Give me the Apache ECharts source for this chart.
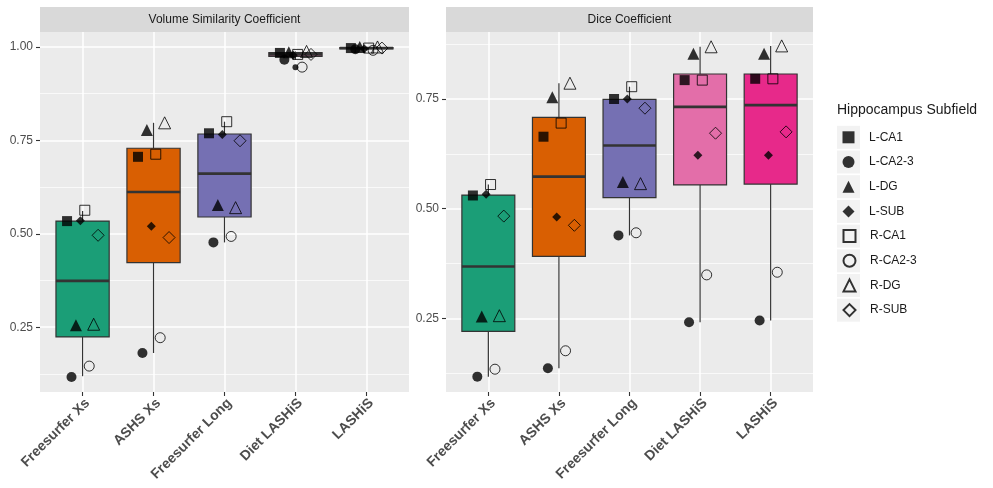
<!DOCTYPE html>
<html><head><meta charset="utf-8">
<script src="https://cdn.jsdelivr.net/npm/echarts@6/dist/echarts.min.js"></script>
<style>html,body{margin:0;padding:0;background:#fff}#c{width:993px;height:488px}</style>
</head><body><div id="c"></div>
<script>
// ---------- DATA ----------
const categories = ['Freesurfer Xs', 'ASHS Xs', 'Freesurfer Long', 'Diet LASHiS', 'LASHiS'];
const subfields = ['L-CA1', 'L-CA2-3', 'L-DG', 'L-SUB', 'R-CA1', 'R-CA2-3', 'R-DG', 'R-SUB'];
const panelTitles = ['Volume Similarity Coefficient', 'Dice Coefficient'];
const legendTitle = 'Hippocampus Subfield';
const boxColors = ['#1B9E77', '#D95F02', '#7570B3', '#E36EA9', '#E7298A'];

// Volume Similarity Coefficient: one array per subfield, one value per category
const vscLCA1  = [0.534, 0.706, 0.769, 0.984, 0.997];
const vscLCA23 = [0.117, 0.181, 0.477, 0.966, 0.994];
const vscLDG   = [0.255, 0.778, 0.577, 0.986, 1.000];
const vscLSUB  = [0.535, 0.520, 0.766, 0.978, 0.995];
const vscRCA1  = [0.563, 0.713, 0.800, 0.980, 0.997];
const vscRCA23 = [0.146, 0.222, 0.493, 0.946, 0.991];
const vscRDG   = [0.258, 0.797, 0.570, 0.988, 1.000];
const vscRSUB  = [0.496, 0.490, 0.749, 0.980, 0.997];
// VSC box statistics per category
const vscLow    = [0.119, 0.181, 0.477, 0.966, 0.991];
const vscQ1     = [0.224, 0.423, 0.545, 0.975, 0.9945];
const vscMedian = [0.374, 0.612, 0.661, 0.980, 0.997];
const vscQ3     = [0.534, 0.729, 0.767, 0.985, 0.998];
const vscHigh   = [0.561, 0.797, 0.800, 0.988, 1.000];
const vscOutlierCat = [3];
const vscOutlierVal = [0.946];

// Dice Coefficient
const diceLCA1  = [0.530, 0.664, 0.750, 0.793, 0.796];
const diceLCA23 = [0.117, 0.136, 0.439, 0.241, 0.245];
const diceLDG   = [0.254, 0.754, 0.561, 0.853, 0.853];
const diceLSUB  = [0.533, 0.481, 0.750, 0.622, 0.622];
const diceRCA1  = [0.555, 0.695, 0.778, 0.793, 0.796];
const diceRCA23 = [0.134, 0.176, 0.445, 0.349, 0.355];
const diceRDG   = [0.256, 0.786, 0.557, 0.869, 0.871];
const diceRSUB  = [0.483, 0.462, 0.729, 0.672, 0.675];
const diceLow    = [0.117, 0.136, 0.439, 0.241, 0.245];
const diceQ1     = [0.220, 0.391, 0.525, 0.554, 0.556];
const diceMedian = [0.368, 0.573, 0.644, 0.732, 0.736];
const diceQ3     = [0.531, 0.708, 0.749, 0.807, 0.807];
const diceHigh   = [0.555, 0.786, 0.778, 0.869, 0.871];
const diceOutlierCat = [];
const diceOutlierVal = [];

// Axis ticks
const vscTicks = [0.25, 0.50, 0.75, 1.00];
const vscMinor = [0.125, 0.375, 0.625, 0.875];
const diceTicks = [0.25, 0.50, 0.75];
const diceMinor = [0.125, 0.375, 0.625, 0.875];
const vscRange = [0.0767, 1.040];
const diceRange = [0.082, 0.9027];

// ---------- BUILD ----------
const FONT = 'Liberation Sans, Arial, sans-serif';
const panels = [
  { pts: [vscLCA1, vscLCA23, vscLDG, vscLSUB, vscRCA1, vscRCA23, vscRDG, vscRSUB],
    box: [vscLow, vscQ1, vscMedian, vscQ3, vscHigh], outC: vscOutlierCat, outV: vscOutlierVal,
    ticks: vscTicks, minor: vscMinor, range: vscRange, left: 40, width: 369 },
  { pts: [diceLCA1, diceLCA23, diceLDG, diceLSUB, diceRCA1, diceRCA23, diceRDG, diceRSUB],
    box: [diceLow, diceQ1, diceMedian, diceQ3, diceHigh], outC: diceOutlierCat, outV: diceOutlierVal,
    ticks: diceTicks, minor: diceMinor, range: diceRange, left: 446, width: 367 }
];
const symbols = ['rect', 'circle', 'triangle', 'diamond', 'rect', 'circle', 'triangle', 'diamond'];
const symSizes = [10, 10, 12, 9, 10, 10, 12, 12];
const catIdx = [0, 1, 2, 3, 4];
const BOX_HALF = 0.375, DODGE = 0.0625;

const grids = [], xAxes = [], yAxes = [], series = [], graphics = [];
panels.forEach((p, g) => {
  grids.push({ left: p.left, top: 32, width: p.width, height: 360, show: true,
    backgroundColor: '#EBEBEB', borderWidth: 0, containLabel: false });
  xAxes.push({ gridIndex: g, type: 'value', min: -0.6, max: 4.6, position: 'bottom',
    axisLine: { show: false, onZero: false },
    axisTick: { show: true, customValues: catIdx, length: 4, lineStyle: { color: '#333333', width: 1.1 } },
    axisLabel: { customValues: catIdx, formatter: v => categories[Math.round(v)], rotate: 45,
      verticalAlign: 'top', align: 'right',
      fontSize: 14, fontWeight: 'bold', color: '#4D4D4D', margin: 4, fontFamily: FONT },
    splitLine: { show: true, lineStyle: { color: '#FFFFFF', width: 1.5 } } });
  yAxes[g] = { gridIndex: g, type: 'value', min: p.range[0], max: p.range[1], position: 'left',
    axisLine: { show: false, onZero: false },
    axisTick: { show: true, customValues: p.ticks, length: 4, lineStyle: { color: '#333333', width: 1.1 } },
    axisLabel: { customValues: p.ticks, formatter: v => v.toFixed(2), fontSize: 12, color: '#4D4D4D', margin: 7, fontFamily: FONT },
    splitLine: { show: true, lineStyle: { color: '#FFFFFF', width: 1.5 } } };
  yAxes[g + 2] = { gridIndex: g, type: 'value', min: p.range[0], max: p.range[1], position: 'left',
    axisLine: { show: false, onZero: false },
    axisTick: { show: false, customValues: p.minor },
    axisLabel: { show: false, customValues: p.minor },
    splitLine: { show: true, lineStyle: { color: '#FFFFFF', width: 0.7 } } };

  // boxes
  const boxData = catIdx.map(i => [i, p.box[0][i], p.box[1][i], p.box[2][i], p.box[3][i], p.box[4][i]]);
  series.push({ type: 'custom', xAxisIndex: g, yAxisIndex: g, z: 2, silent: true,
    encode: { x: 0, y: [1, 2, 3, 4, 5] }, data: boxData,
    renderItem: (params, api) => {
      const x = api.value(0);
      const lo = api.value(1), q1 = api.value(2), md = api.value(3), q3 = api.value(4), hi = api.value(5);
      const tl = api.coord([x - BOX_HALF, q3]);
      const br = api.coord([x + BOX_HALF, q1]);
      const ml = api.coord([x - BOX_HALF, md]);
      const mr = api.coord([x + BOX_HALF, md]);
      const ph = api.coord([x, hi]);
      const pl = api.coord([x, lo]);
      const stroke = { stroke: '#333333', lineWidth: 1.2 };
      return { type: 'group', children: [
        { type: 'line', shape: { x1: ph[0], y1: ph[1], x2: ph[0], y2: tl[1] }, style: stroke },
        { type: 'line', shape: { x1: pl[0], y1: br[1], x2: pl[0], y2: pl[1] }, style: stroke },
        { type: 'rect', shape: { x: tl[0], y: tl[1], width: br[0] - tl[0], height: br[1] - tl[1] },
          style: { fill: boxColors[params.dataIndex], stroke: '#333333', lineWidth: 1.2 } },
        { type: 'line', shape: { x1: ml[0], y1: ml[1], x2: mr[0], y2: mr[1] },
          style: { stroke: '#333333', lineWidth: 2.6 } }
      ] };
    } });

  // outliers
  if (p.outC.length) {
    series.push({ type: 'scatter', xAxisIndex: g, yAxisIndex: g, z: 3, silent: true,
      symbol: 'circle', symbolSize: 6, itemStyle: { color: '#000' },
      data: p.outC.map((c, k) => [c, p.outV[k]]) });
  }

  // subfield points
  subfields.forEach((name, j) => {
    const filled = j < 4;
    series.push({ type: 'scatter', name: name, xAxisIndex: g, yAxisIndex: g, z: 4,
      symbol: symbols[j], symbolSize: symSizes[j],
      itemStyle: filled ? { color: '#000000' } : { color: 'rgba(0,0,0,0)', borderColor: '#000000', borderWidth: 1 },
      emphasis: { disabled: true },
      data: catIdx.map(i => [i + (j - 3.5) * DODGE, p.pts[j][i]]) });
  });

  // strip
  graphics.push({ type: 'rect', shape: { x: p.left, y: 7, width: p.width, height: 25 }, style: { fill: '#D9D9D9' }, silent: true });
  graphics.push({ type: 'text', x: p.left + p.width / 2, y: 20, silent: true,
    style: { text: panelTitles[g], align: 'center', verticalAlign: 'middle', fill: '#1A1A1A', font: '12px ' + FONT } });
});

// legend title & key backgrounds
graphics.push({ type: 'text', x: 837, y: 110, silent: true,
  style: { text: legendTitle, align: 'left', verticalAlign: 'middle', fill: '#1A1A1A', font: '14px ' + FONT } });
subfields.forEach((n, k) => {
  graphics.push({ type: 'rect', shape: { x: 837, y: 137.3 + 24.7 * k - 11.5, width: 23, height: 23 },
    style: { fill: '#F2F2F2' }, silent: true, z: -1 });
});

const legendText = { fontSize: 12, color: '#1A1A1A', lineHeight: 12, fontFamily: FONT, padding: [0, 0, 0, 9.5] };
const chart = echarts.init(document.getElementById('c'), null, { renderer: 'canvas' });
chart.setOption({
  animation: false,
  backgroundColor: '#FFFFFF',
  textStyle: { fontFamily: FONT },
  grid: grids, xAxis: xAxes, yAxis: yAxes, series: series, graphic: graphics,
  legend: [
    { orient: 'vertical', left: 842.5, top: 131.3, padding: 0,
      itemWidth: 12, itemHeight: 12, itemGap: 12.7, selectedMode: false,
      data: subfields.slice(0, 4), textStyle: legendText },
    { orient: 'vertical', left: 842.5, top: 229, padding: 0,
      itemWidth: 12, itemHeight: 12, itemGap: 10.7, selectedMode: false,
      data: subfields.slice(4), textStyle: legendText }
  ]
});
</script></body></html>
